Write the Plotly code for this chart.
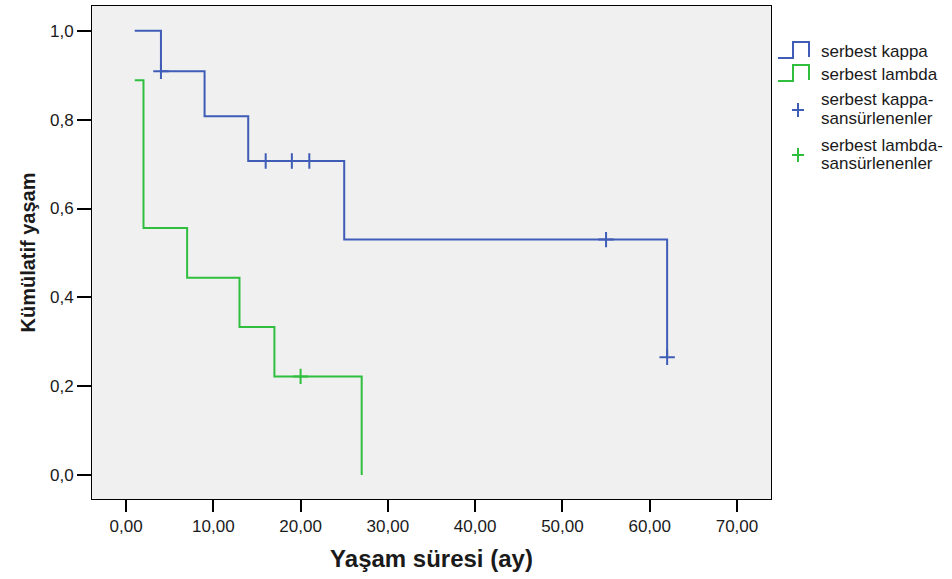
import plotly.graph_objects as go

# ---- data ----
kappa_time = [1, 4, 9, 14, 25, 62]
kappa_surv = [1.0, 0.909, 0.808, 0.707, 0.530, 0.265]
kappa_cens_time = [4, 16, 19, 21, 55, 62]
kappa_cens_surv = [0.909, 0.707, 0.707, 0.707, 0.530, 0.265]

lambda_time = [1, 2, 7, 13, 17, 27]
lambda_surv = [0.889, 0.556, 0.444, 0.333, 0.222, 0.0]
lambda_cens_time = [20]
lambda_cens_surv = [0.222]

x_ticks = [0, 10, 20, 30, 40, 50, 60, 70]
y_ticks = [0.0, 0.2, 0.4, 0.6, 0.8, 1.0]

legend_labels = ["serbest kappa", "serbest lambda",
                 "serbest kappa-|sansürlenenler", "serbest lambda-|sansürlenenler"]

BLUE = "#3f5cb7"
GREEN = "#2fbe3e"
FONT = "Liberation Sans, Arial, sans-serif"

W, H = 952, 579
L, R, T, B = 92, 181, 6, 80
PX0, PX1, PY0, PY1 = L, W - R, T, H - B


def px(x):
    return (x - PX0) / (PX1 - PX0)


def py(y):
    return (PY1 - y) / (PY1 - PY0)


fig = go.Figure()
fig.add_trace(go.Scatter(x=kappa_time, y=kappa_surv, mode="lines", line_shape="hv",
                         line=dict(color=BLUE, width=2), name=legend_labels[0], showlegend=False))
fig.add_trace(go.Scatter(x=lambda_time, y=lambda_surv, mode="lines", line_shape="hv",
                         line=dict(color=GREEN, width=2), name=legend_labels[1], showlegend=False))
fig.add_trace(go.Scatter(x=kappa_cens_time, y=kappa_cens_surv, mode="markers",
                         marker=dict(symbol="cross-thin", size=11, line=dict(color=BLUE, width=2)),
                         name=legend_labels[2], showlegend=False))
fig.add_trace(go.Scatter(x=lambda_cens_time, y=lambda_cens_surv, mode="markers",
                         marker=dict(symbol="cross-thin", size=11, line=dict(color=GREEN, width=2)),
                         name=legend_labels[3], showlegend=False))

# ---- manual legend (step icons + crosses) ----
shapes = []
annotations = []
step_items = [(BLUE, 58, legend_labels[0]), (GREEN, 81, legend_labels[1])]
for color, yb, label in step_items:
    yt = yb - 16
    path = (f"M {px(778)},{py(yb)} L {px(793)},{py(yb)} L {px(793)},{py(yt)} "
            f"L {px(809)},{py(yt)} L {px(809)},{py(yb - 1)}")
    shapes.append(dict(type="path", xref="paper", yref="paper", path=path,
                       line=dict(color=color, width=2)))
    annotations.append(dict(x=px(819), y=py(yb - 7), xref="paper", yref="paper",
                            text=label, showarrow=False, xanchor="left", yanchor="middle",
                            font=dict(family=FONT, size=17, color="#1a1a1a")))

cross_items = [(BLUE, 110, legend_labels[2]), (GREEN, 155, legend_labels[3])]
for color, yc, label in cross_items:
    shapes.append(dict(type="line", xref="paper", yref="paper",
                       x0=px(792), x1=px(804), y0=py(yc), y1=py(yc),
                       line=dict(color=color, width=2)))
    shapes.append(dict(type="line", xref="paper", yref="paper",
                       x0=px(798), x1=px(798), y0=py(yc - 7), y1=py(yc + 7),
                       line=dict(color=color, width=2)))
    l1, l2 = label.split("|")
    annotations.append(dict(x=px(819), y=py(yc - 10), xref="paper", yref="paper",
                            text=l1, showarrow=False, xanchor="left", yanchor="middle",
                            font=dict(family=FONT, size=17, color="#1a1a1a")))
    annotations.append(dict(x=px(819), y=py(yc + 9), xref="paper", yref="paper",
                            text=l2, showarrow=False, xanchor="left", yanchor="middle",
                            font=dict(family=FONT, size=17, color="#1a1a1a")))

fig.update_layout(
    width=W, height=H,
    margin=dict(l=L, r=R, t=T, b=B, pad=0),
    paper_bgcolor="white",
    plot_bgcolor="#f0f0f0",
    separators=",.",
    font=dict(family=FONT, size=17, color="#1a1a1a"),
    shapes=shapes,
    annotations=annotations,
    xaxis=dict(
        range=[-3.9, 73.9], tickvals=x_ticks, tickformat=".2f",
        ticks="outside", ticklen=12, tickwidth=2, tickcolor="black",
        showgrid=False, zeroline=False,
        showline=True, linecolor="black", linewidth=1, mirror=True,
        tickfont=dict(family=FONT, size=17, color="#1a1a1a"),
        title=dict(text="<b>Yaşam süresi (ay)</b>", standoff=14,
                   font=dict(family=FONT, size=24, color="#1a1a1a")),
    ),
    yaxis=dict(
        range=[-0.054, 1.056], tickvals=y_ticks, tickformat=".1f",
        ticks="outside", ticklen=14, tickwidth=2, tickcolor="black",
        showgrid=False, zeroline=False,
        showline=True, linecolor="black", linewidth=1, mirror=True,
        tickfont=dict(family=FONT, size=17, color="#1a1a1a"),
        title=dict(text="<b>Kümülatif yaşam</b>", standoff=8,
                   font=dict(family=FONT, size=20, color="#1a1a1a")),
    ),
)

fig.write_html("out.html", config={"displayModeBar": False},
               post_script="document.body.style.margin='0';document.body.style.padding='0';")
